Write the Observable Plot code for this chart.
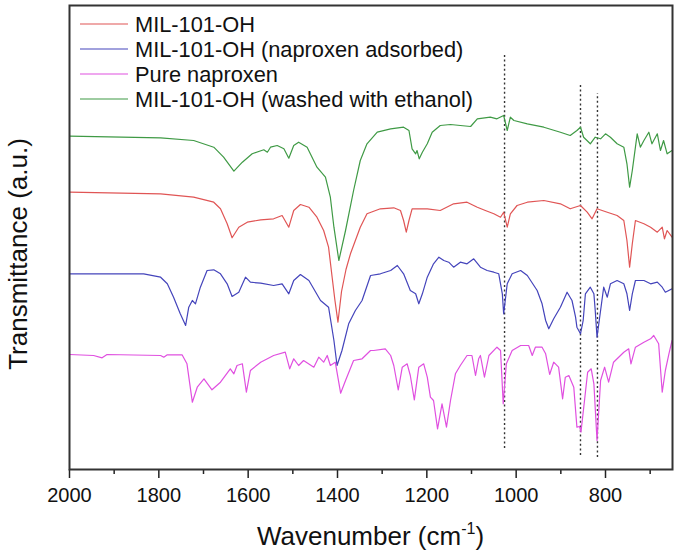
<!DOCTYPE html>
<html><head><meta charset="utf-8">
<script src="https://cdn.jsdelivr.net/npm/d3@7"></script>
<script src="https://cdn.jsdelivr.net/npm/@observablehq/plot@0.6"></script>
<style>body{margin:0;background:#fff}</style>
</head><body><div id="chart"></div>
<script>
// Series names and colours (legend order)
const seriesNames = ["MIL-101-OH", "MIL-101-OH (naproxen adsorbed)", "Pure naproxen", "MIL-101-OH (washed with ethanol)"];
const seriesColors = ["#e05555", "#4444bb", "#e050e0", "#3f9a45"];

// [wavenumber (cm-1), transmittance (a.u., offset)]
const mil101 = [[2000,277.3],[1796,275.7],[1722,272.3],[1677,267.3],[1662,260.7],[1647,245.7],[1636,231.7],[1621,242.3],[1602,247.3],[1572,249.7],[1543,250.7],[1524,254],[1509,242.3],[1498,259],[1483,265],[1464,262.3],[1446,252.3],[1431,239],[1420,222.3],[1412,192.3],[1406,170],[1399,147.3],[1391,178],[1381,200],[1371,215.7],[1349,242.3],[1334,255.7],[1304,260.7],[1274,261.7],[1259,259],[1252,249],[1246,237.3],[1240,249],[1233,260.7],[1199,260.7],[1170,259],[1140,265.7],[1110,267.3],[1087,262.3],[1069,259],[1050,255.7],[1035,252.3],[1028,257.3],[1020,242.3],[1013,255.7],[998,264],[975,267.3],[938,269],[901,265.7],[879,260.7],[856,264],[841,257.3],[830,250.7],[819,260.7],[796,257.3],[774,254],[759,249],[752,229],[746,202.3],[740,225.7],[733,249],[714,245.7],[699,242.3],[684,237.3],[673,242.3],[668,230.7],[662,239],[651,232.3]];

const naproxenAdsorbed = [[2000,195.7],[1834,195.7],[1796,192.3],[1781,185.7],[1767,172.3],[1752,155.7],[1740,144],[1733,162.3],[1725,169],[1718,165.7],[1707,182.3],[1692,199],[1677,199.7],[1662,195.7],[1647,185.7],[1636,173],[1621,177.3],[1606,192.3],[1595,187.3],[1572,186.3],[1543,184],[1524,185.7],[1509,175.7],[1498,189],[1483,195],[1464,189],[1438,169],[1420,162.3],[1408,129],[1401,104],[1390,119],[1375,145.7],[1360,159],[1345,169],[1326,194],[1304,195.7],[1281,199],[1266,204],[1252,195.7],[1237,179],[1225,175.7],[1218,165.7],[1210,175.7],[1199,192.3],[1185,205.7],[1173,212.3],[1162,209],[1151,207.3],[1140,202.3],[1125,207.3],[1110,205.7],[1095,210.7],[1080,202.3],[1065,199],[1050,197.3],[1039,195.7],[1031,175.7],[1028,155.7],[1020,185.7],[1009,195.7],[990,199],[975,194],[953,179],[942,165.7],[934,149],[927,140.7],[916,150.7],[901,162.3],[886,177.3],[875,169],[867,152.3],[864,142.3],[856,135.7],[850,149],[845,175.7],[834,182.3],[826,175.7],[823,159],[819,132.3],[811,159],[804,182.3],[796,172.3],[789,185.7],[774,189],[759,185.7],[752,175.7],[746,159],[740,175.7],[733,189],[714,189],[699,185.7],[684,187.3],[673,182.3],[666,177.3],[651,180.7]];

const pureNaproxen = [[2000,115],[1946,114],[1927,111.7],[1916,115],[1796,114],[1789,112.3],[1781,114.7],[1748,114.7],[1737,105.7],[1725,67.3],[1714,82.3],[1699,90.7],[1681,79.7],[1662,87.3],[1640,100.7],[1632,95.7],[1625,104],[1613,105.7],[1604,77.3],[1595,99],[1572,107.3],[1543,114],[1517,117.3],[1507,100.7],[1498,110.7],[1487,104],[1476,109],[1453,102.3],[1442,112.3],[1431,107.3],[1423,114],[1416,104],[1405,107.3],[1393,76.3],[1382,89],[1364,109],[1345,110.7],[1326,119],[1319,119],[1293,120.7],[1281,114],[1274,104],[1264,79.7],[1255,102.3],[1244,105.7],[1237,94],[1228,69.7],[1218,102.3],[1207,105.7],[1199,92.3],[1192,72.3],[1185,69],[1176,40.7],[1166,65.7],[1156,42.3],[1147,69],[1136,95.7],[1125,104],[1110,114],[1099,114],[1091,94],[1084,110.7],[1080,114],[1071,92.3],[1061,114],[1043,122.3],[1035,119],[1029,65.7],[1022,105.7],[1009,119],[990,124],[972,124],[964,114],[957,122.3],[942,122.3],[934,115.7],[925,95],[916,107.3],[905,102.3],[896,70.7],[890,92.3],[882,94],[871,82.3],[864,42.3],[858,43],[855,37.3],[847,69],[840,97.3],[832,100.7],[826,85.7],[819,29],[811,89],[802,102.3],[793,87.3],[782,107.3],[759,117.3],[748,120.7],[743,105.7],[733,122.3],[714,127.3],[699,130.7],[692,134],[681,125.7],[673,77.3],[666,99],[658,115.7],[651,129]];

const washedEthanol = [[2000,333.3],[1796,331.7],[1722,329],[1677,322.3],[1655,312.3],[1632,298.3],[1613,307.3],[1591,315.7],[1565,319.7],[1557,317.3],[1550,322.3],[1535,324],[1520,320.7],[1509,311.3],[1498,324],[1487,327.3],[1468,322.3],[1446,302.3],[1427,292.3],[1416,272.3],[1408,242.3],[1397,209],[1382,239],[1364,279],[1349,309],[1334,325.7],[1311,337.3],[1281,340.7],[1252,342.3],[1240,339],[1233,320.7],[1225,315.7],[1222,319],[1217,310.7],[1210,317.3],[1199,325.7],[1188,337.3],[1170,344],[1147,345],[1125,344],[1102,343],[1087,350.7],[1058,352.3],[1043,350.7],[1028,354],[1020,339],[1013,352.3],[1005,349],[975,345.7],[938,342.3],[901,337.3],[879,334],[864,339],[856,342.3],[849,332.3],[834,325.7],[823,332.3],[811,330.7],[800,335.7],[789,332.3],[774,325.7],[759,322.3],[752,305.7],[746,282.3],[740,299],[733,322.3],[729,335.7],[722,322.3],[714,329],[703,337.3],[696,325.7],[684,335.7],[677,319],[670,329],[662,315.7],[651,319]];

// Dotted reference lines: wavenumber and vertical extent (a.u.)
const refWavenumbers = [1026, 856, 818];
const refTops = [414, 384, 376];
const refBottoms = [21, 14, 12];

// x-axis ticks
const xMajorTicks = [2000, 1800, 1600, 1400, 1200, 1000, 800];
const xMinorTicks = [1900, 1700, 1500, 1300, 1100, 900, 700];

const allSeries = [mil101, naproxenAdsorbed, pureNaproxen, washedEthanol];
const table = allSeries.flatMap((pts, i) => pts.map(([w, v]) => ({series: seriesNames[i], w, v})));
const refs = refWavenumbers.map((w, i) => ({w, top: refTops[i], bottom: refBottoms[i]}));

const font = "'Liberation Sans', Arial, sans-serif";

const chart = Plot.plot({
  width: 675, height: 556,
  marginLeft: 69, marginRight: 3, marginTop: 5, marginBottom: 87,
  style: {fontFamily: font, fontSize: "19.5px", color: "#111", background: "#fff"},
  x: {domain: [2000, 650], axis: null},
  y: {domain: [0, 464], axis: null},
  color: {domain: seriesNames, range: seriesColors},
  marks: [
    Plot.ruleX(refs, {x: "w", y1: "bottom", y2: "top", stroke: "#333", strokeWidth: 1.4, strokeDasharray: "2,2.6"}),
    Plot.line(table, {x: "w", y: "v", z: "series", stroke: "series", strokeWidth: 1.2, clip: true}),
    Plot.axisX({ticks: xMajorTicks, tickSize: 9, tickPadding: 9, tickFormat: d => String(d), stroke: "#222", strokeWidth: 1.5, fontSize: 20, fill: "#111", label: null}),
    Plot.axisX({ticks: xMinorTicks, tickSize: 5, tickFormat: () => "", stroke: "#222", strokeWidth: 1.5, label: null}),
    Plot.frame({stroke: "#333", strokeWidth: 2})
  ]
});

document.getElementById("chart").appendChild(chart);
const svg = d3.select(chart);

// Legend
const leg = svg.append("g").attr("font-family", font).attr("font-size", 21.8).attr("fill", "#111").attr("text-anchor", "start");
seriesNames.forEach((name, i) => {
  const yy = 24 + i * 25;
  leg.append("line").attr("x1", 80).attr("x2", 128).attr("y1", yy).attr("y2", yy)
    .attr("stroke", seriesColors[i]).attr("stroke-width", 1.2);
  leg.append("text").attr("x", 135).attr("y", yy).attr("dy", "0.36em").attr("text-anchor", "start").text(name);
});

// Axis titles
const xt = svg.append("text").attr("x", 370.5).attr("y", 545).attr("text-anchor", "middle")
  .attr("font-family", font).attr("font-size", 26).attr("fill", "#111");
xt.append("tspan").text("Wavenumber (cm");
xt.append("tspan").attr("font-size", 16).attr("dy", -11).text("-1");
xt.append("tspan").attr("dy", 11).text(")");

svg.append("text").attr("transform", "translate(27,254) rotate(-90)").attr("text-anchor", "middle")
  .attr("font-family", font).attr("font-size", 26).attr("fill", "#111").text("Transmittance (a.u.)");
</script>
</body></html>
